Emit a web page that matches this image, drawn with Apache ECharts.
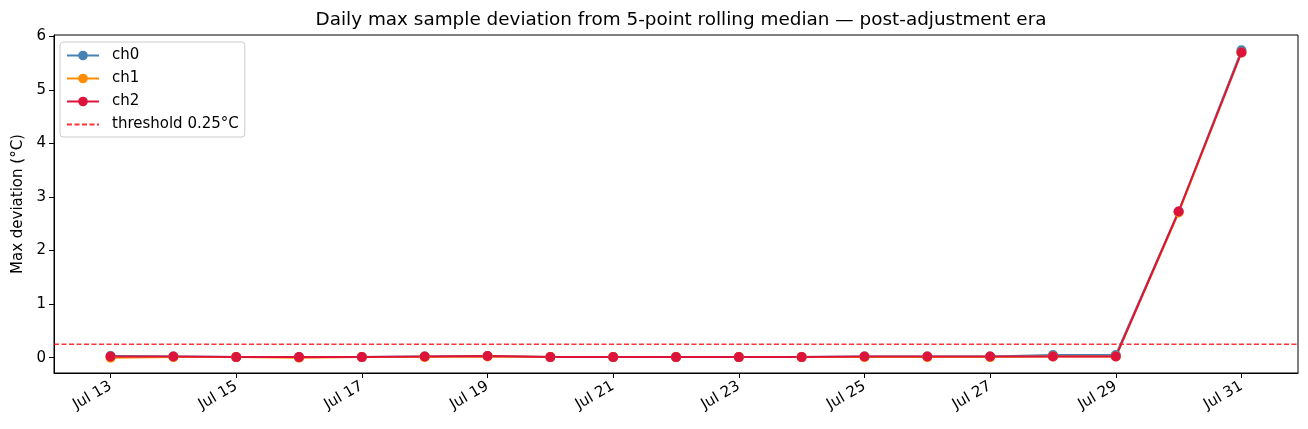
<!DOCTYPE html>
<html>
<head>
<meta charset="utf-8">
<script src="https://cdn.jsdelivr.net/npm/echarts@6/dist/echarts.min.js"></script>
<style>
  html, body { margin: 0; padding: 0; background: #fff; }
  #chart { width: 1308px; height: 429px; }
</style>
</head>
<body>
<div id="chart"></div>
<script>
// days are offsets from Jul 13
var days = [0, 1, 2, 3, 4, 5, 6, 7, 8, 9, 10, 11, 12, 13, 14, 15, 16, 17, 18];
var ch0 = [0.03, 0.02, 0.01, 0.01, 0.01, 0.02, 0.03, 0.01, 0.01, 0.01, 0.01, 0.01, 0.02, 0.02, 0.02, 0.05, 0.05, 2.73, 5.74];
var ch1 = [0.00, 0.01, 0.01, 0.00, 0.01, 0.01, 0.02, 0.01, 0.01, 0.01, 0.01, 0.01, 0.01, 0.01, 0.01, 0.02, 0.02, 2.71, 5.70];
var ch2 = [0.02, 0.02, 0.01, 0.01, 0.01, 0.02, 0.03, 0.01, 0.01, 0.01, 0.01, 0.01, 0.02, 0.02, 0.02, 0.02, 0.02, 2.73, 5.70];
var threshold = 0.25;
var xTicks = [0, 2, 4, 6, 8, 10, 12, 14, 16, 18];
var yTicks = [0, 1, 2, 3, 4, 5, 6];

var font = "DejaVu Sans";
var thName = "threshold 0.25\u00b0C";

function pairs(vals) {
  return days.map(function (d, i) { return [d, vals[i]]; });
}

function lineSeries(name, vals, color) {
  return {
    name: name,
    type: "line",
    data: pairs(vals),
    symbol: "circle",
    symbolSize: 10,
    itemStyle: { color: color },
    lineStyle: { color: color, width: 2 },
    emphasis: { disabled: true },
    animation: false,
  };
}

var xMin = -0.9, xMax = 18.9;

window.onload = function () {
  var myChart = echarts.init(document.getElementById("chart"));
  var option = {
    backgroundColor: "#fff",
    textStyle: { fontFamily: font },
    title: {
      text: "Daily max sample deviation from 5-point rolling median \u2014 post-adjustment era",
      left: 676,
      textAlign: "center",
      top: 6,
      textStyle: { fontFamily: font, fontSize: 18.4, fontWeight: "normal", color: "#000" },
    },
    grid: {
      left: 54, right: 10, top: 35, bottom: 56,
      outerBoundsMode: "none",
      containLabel: false,
      show: true, borderColor: "#000", borderWidth: 1,
    },
    legend: {
      orient: "vertical",
      left: 60, top: 42,
      padding: [6, 6, 5, 6],
      itemWidth: 32, itemHeight: 12, itemGap: 8,
      backgroundColor: "rgba(255,255,255,0.8)",
      borderColor: "#ccc", borderWidth: 1, borderRadius: 3,
      textStyle: { fontFamily: font, fontSize: 15, color: "#000", padding: [0, 0, 0, 8] },
      data: ["ch0", "ch1", "ch2", { name: thName, itemStyle: { opacity: 0 } }],
    },
    xAxis: {
      type: "value",
      min: xMin, max: xMax,
      splitLine: { show: false },
      axisLine: { show: true, onZero: false, lineStyle: { color: "#000" } },
      axisTick: { show: true, customValues: xTicks, length: 5, lineStyle: { color: "#000" } },
      axisLabel: {
        customValues: xTicks,
        rotate: 30,
        fontFamily: font, fontSize: 15, color: "#000", margin: 12,
        formatter: function (v) { return "Jul " + (13 + v); },
      },
    },
    yAxis: {
      type: "value",
      min: -0.287, max: 6.027,
      name: "Max deviation (\u00b0C)",
      nameLocation: "middle",
      nameRotate: 90,
      nameGap: 28,
      nameTextStyle: { fontFamily: font, fontSize: 15, color: "#000" },
      splitLine: { show: false },
      axisLine: { show: true, onZero: false, lineStyle: { color: "#000" } },
      axisTick: { show: true, customValues: yTicks, length: 5, lineStyle: { color: "#000" } },
      axisLabel: {
        customValues: yTicks,
        fontFamily: font, fontSize: 15, color: "#000", margin: 8,
      },
    },
    series: [
      lineSeries("ch0", ch0, "#4682b4"),
      lineSeries("ch1", ch1, "#ff8c00"),
      lineSeries("ch2", ch2, "#dc143c"),
      {
        name: thName,
        type: "line",
        data: [[xMin, threshold], [xMax, threshold]],
        symbol: "none",
        itemStyle: { color: "rgba(255,0,0,0.8)" },
        lineStyle: { color: "rgba(255,0,0,0.8)", width: 1.4, type: [5, 2.5] },
        emphasis: { disabled: true },
        animation: false,
        z: 1,
      },
    ],
  };
  myChart.setOption(option);
};
</script>
</body>
</html>
